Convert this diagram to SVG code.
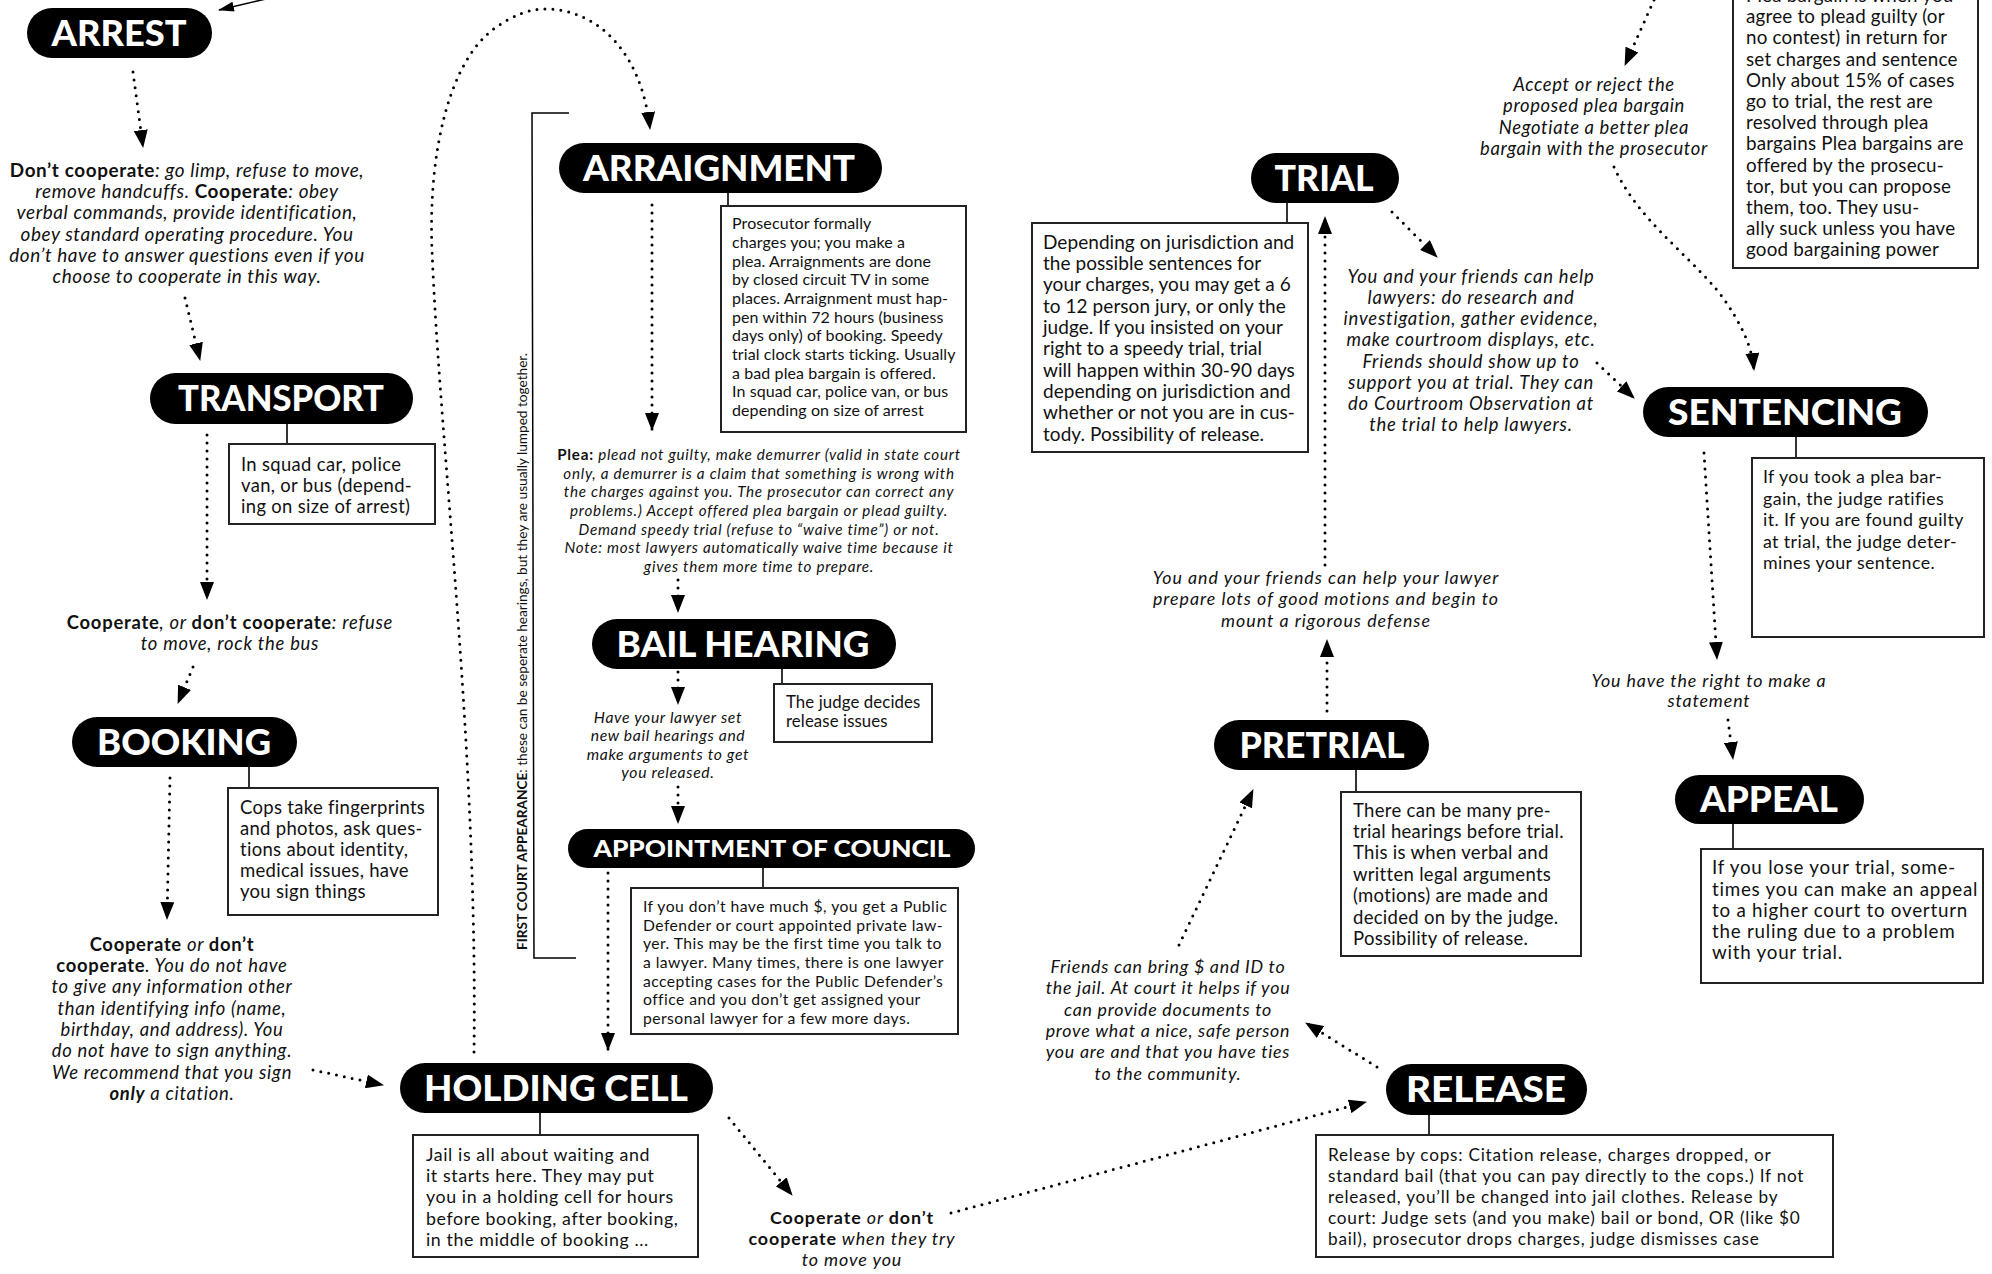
<svg xmlns="http://www.w3.org/2000/svg" width="1992" height="1274" viewBox="0 0 1992 1274">
<defs>
<marker id="ah" markerUnits="userSpaceOnUse" viewBox="0 0 18 14" refX="17" refY="7" markerWidth="18" markerHeight="14" orient="auto">
<path d="M0,0 L18,7 L0,14 z" fill="#000"/>
</marker>
<marker id="ahs" markerUnits="userSpaceOnUse" viewBox="0 0 16 10" refX="15" refY="5" markerWidth="16" markerHeight="10" orient="auto">
<path d="M0,0 L16,5 L0,10 z" fill="#000"/>
</marker>
</defs>
<style>
text{font-family:Lato,"Open Sans","DejaVu Sans",sans-serif;fill:#111}
.pill{fill:#000}
.title{fill:#fff;font-weight:900;font-size:36px;text-anchor:middle;letter-spacing:0}
.title.small{font-size:23px}
.box{fill:#fff;stroke:#222;stroke-width:2}
.tie{stroke:#333;stroke-width:2}
.dot{fill:none;stroke:#000;stroke-width:3;stroke-dasharray:0 8;stroke-linecap:round;marker-end:url(#ah)}
.solid{fill:none;stroke:#000;stroke-width:1.6}
.lab{font-style:italic;text-anchor:middle}
.b{font-weight:700;font-style:normal}
</style>
<rect width="1992" height="1274" fill="#fff"/>

<g id="connectors">
<line class="solid" x1="270" y1="-2" x2="219" y2="10" marker-end="url(#ahs)"/>
<path class="dot" d="M133,72 L143,147"/>
<path class="dot" d="M185,298 L200,360"/>
<path class="dot" d="M207,435 L207,599"/>
<path class="dot" d="M193,667 L178,703"/>
<path class="dot" d="M170,778 L167,919"/>
<path class="dot" d="M313,1070 L383,1085"/>
<path class="dot" d="M474,1052 C478,750 440,450 432,250 C428,150 450,60 495,28 C515,14 530,9 545,9 C600,9 642,55 650,129"/>
<path class="dot" d="M652,205 L652,430"/>
<path class="dot" d="M678,580 L678,612"/>
<path class="dot" d="M678,672 L678,704"/>
<path class="dot" d="M678,787 L678,823"/>
<path class="dot" d="M608,873 L608,1050"/>
<path class="dot" d="M729,1118 L792,1195"/>
<path class="dot" d="M951,1213 L1366,1102"/>
<path class="dot" d="M1377,1067 L1306,1023"/>
<path class="dot" d="M1179,945 L1253,790"/>
<path class="dot" d="M1327,711 L1327,640"/>
<path class="dot" d="M1325,565 L1325,217"/>
<path class="dot" d="M1392,212 L1437,257"/>
<path class="dot" d="M1597,363 L1634,398"/>
<path class="dot" d="M1654,0 L1625,65"/>
<path class="dot" d="M1614,167 C1640,225 1700,262 1728,305 C1746,333 1752,350 1754,370"/>
<path class="dot" d="M1704,453 L1717,659"/>
<path class="dot" d="M1728,720 L1733,759"/>
</g>

<g id="first-court-appearance">
<path d="M569,113 L532,113 L534,958 L576,958" fill="none" stroke="#000" stroke-width="1.5"/>
<text transform="translate(527,950) rotate(-90)" font-size="13" textLength="597" lengthAdjust="spacingAndGlyphs"><tspan font-weight="700">FIRST COURT APPEARANCE</tspan>: these can be seperate hearings, but they are usually lumped together.</text>
</g>

<g id="arrest">
<rect class="pill" x="27" y="8" width="185" height="50" rx="25"/>
<text class="title" x="119" y="46" textLength="135" lengthAdjust="spacingAndGlyphs">ARREST</text>
</g>
<g id="arrest-note" font-size="18.9" letter-spacing="0.6">
<text class="lab" x="187" y="177"><tspan class="b">Don’t cooperate</tspan>: go limp, refuse to move,</text>
<text class="lab" x="187" y="198">remove handcuffs. <tspan class="b">Cooperate</tspan>: obey</text>
<text class="lab" x="187" y="219">verbal commands, provide identification,</text>
<text class="lab" x="187" y="241">obey standard operating procedure. You</text>
<text class="lab" x="187" y="262">don’t have to answer questions even if you</text>
<text class="lab" x="187" y="283">choose to cooperate in this way.</text>
</g>

<g id="transport">
<rect class="pill" x="150" y="373" width="263" height="51" rx="25.5"/>
<text class="title" x="281" y="411" textLength="206" lengthAdjust="spacingAndGlyphs">TRANSPORT</text>
<line class="tie" x1="287" y1="424" x2="287" y2="444"/>
<rect class="box" x="229" y="444" width="206" height="80"/>
<g font-size="18.4" letter-spacing="0.35">
<text x="241" y="471">In squad car, police</text>
<text x="241" y="492">van, or bus (depend-</text>
<text x="241" y="513">ing on size of arrest)</text>
</g>
</g>
<g id="transport-note" font-size="18.4" letter-spacing="0.75">
<text class="lab" x="230" y="629"><tspan class="b">Cooperate</tspan>, or <tspan class="b">don’t cooperate</tspan>: refuse</text>
<text class="lab" x="230" y="650">to move, rock the bus</text>
</g>

<g id="booking">
<rect class="pill" x="72" y="717" width="225" height="50" rx="25"/>
<text class="title" x="184" y="755" textLength="174" lengthAdjust="spacingAndGlyphs">BOOKING</text>
<line class="tie" x1="249" y1="767" x2="249" y2="788"/>
<rect class="box" x="228" y="788" width="210" height="127"/>
<g font-size="18.5" letter-spacing="0.3">
<text x="240" y="814">Cops take fingerprints</text>
<text x="240" y="835">and photos, ask ques-</text>
<text x="240" y="856">tions about identity,</text>
<text x="240" y="877">medical issues, have</text>
<text x="240" y="898">you sign things</text>
</g>
</g>
<g id="booking-note" font-size="18.4" letter-spacing="0.7">
<text class="lab" x="172" y="951"><tspan class="b">Cooperate</tspan> or <tspan class="b">don’t</tspan></text>
<text class="lab" x="172" y="972"><tspan class="b">cooperate</tspan>. You do not have</text>
<text class="lab" x="172" y="993">to give any information other</text>
<text class="lab" x="172" y="1015">than identifying info (name,</text>
<text class="lab" x="172" y="1036">birthday, and address). You</text>
<text class="lab" x="172" y="1057">do not have to sign anything.</text>
<text class="lab" x="172" y="1079">We recommend that you sign</text>
<text class="lab" x="172" y="1100"><tspan font-weight="700">only</tspan> a citation.</text>
</g>

<g id="holding-cell">
<rect class="pill" x="400" y="1063" width="313" height="50" rx="25"/>
<text class="title" x="556" y="1101" textLength="264" lengthAdjust="spacingAndGlyphs">HOLDING CELL</text>
<line class="tie" x1="540" y1="1113" x2="540" y2="1135"/>
<rect class="box" x="413" y="1135" width="285" height="122"/>
<g font-size="17.8" letter-spacing="0.6">
<text x="426" y="1161">Jail is all about waiting and</text>
<text x="426" y="1182">it starts here. They may put</text>
<text x="426" y="1203">you in a holding cell for hours</text>
<text x="426" y="1225">before booking, after booking,</text>
<text x="426" y="1246">in the middle of booking ...</text>
</g>
</g>
<g id="holding-note" font-size="17.9" letter-spacing="0.9">
<text class="lab" x="852" y="1224"><tspan class="b">Cooperate</tspan> or <tspan class="b">don’t</tspan></text>
<text class="lab" x="852" y="1245"><tspan class="b">cooperate</tspan> when they try</text>
<text class="lab" x="852" y="1266">to move you</text>
</g>

<g id="arraignment">
<rect class="pill" x="559" y="143" width="323" height="50" rx="25"/>
<text class="title" x="719" y="181" textLength="272" lengthAdjust="spacingAndGlyphs">ARRAIGNMENT</text>
<line class="tie" x1="728" y1="193" x2="728" y2="206"/>
<rect class="box" x="721" y="206" width="245" height="226"/>
<g font-size="16" letter-spacing="0.1">
<text x="732" y="229">Prosecutor formally</text>
<text x="732" y="248">charges you; you make a</text>
<text x="732" y="267">plea. Arraignments are done</text>
<text x="732" y="285">by closed circuit TV in some</text>
<text x="732" y="304">places. Arraignment must hap-</text>
<text x="732" y="323">pen within 72 hours (business</text>
<text x="732" y="341">days only) of booking. Speedy</text>
<text x="732" y="360">trial clock starts ticking. Usually</text>
<text x="732" y="379">a bad plea bargain is offered.</text>
<text x="732" y="397">In squad car, police van, or bus</text>
<text x="732" y="416">depending on size of arrest</text>
</g>
</g>
<g id="plea-note" font-size="15.2" letter-spacing="0.75">
<text class="lab" x="759" y="460"><tspan class="b">Plea:</tspan> plead not guilty, make demurrer (valid in state court</text>
<text class="lab" x="759" y="479">only, a demurrer is a claim that something is wrong with</text>
<text class="lab" x="759" y="497">the charges against you. The prosecutor can correct any</text>
<text class="lab" x="759" y="516">problems.) Accept offered plea bargain or plead guilty.</text>
<text class="lab" x="759" y="535">Demand speedy trial (refuse to “waive time”) or not.</text>
<text class="lab" x="759" y="553">Note: most lawyers automatically waive time because it</text>
<text class="lab" x="759" y="572">gives them more time to prepare.</text>
</g>

<g id="bail-hearing">
<rect class="pill" x="592" y="619" width="304" height="50" rx="25"/>
<text class="title" x="743" y="657" textLength="253" lengthAdjust="spacingAndGlyphs">BAIL HEARING</text>
<line class="tie" x1="782" y1="669" x2="782" y2="684"/>
<rect class="box" x="774" y="684" width="158" height="58"/>
<g font-size="16.8" letter-spacing="0.1">
<text x="786" y="708">The judge decides</text>
<text x="786" y="727">release issues</text>
</g>
</g>
<g id="bail-note" font-size="15.7" letter-spacing="0.65">
<text class="lab" x="668" y="723">Have your lawyer set</text>
<text class="lab" x="668" y="741">new bail hearings and</text>
<text class="lab" x="668" y="760">make arguments to get</text>
<text class="lab" x="668" y="778">you released.</text>
</g>

<g id="appointment-of-council">
<rect class="pill" x="568" y="829" width="407" height="39" rx="19.5"/>
<text class="title small" x="772" y="857" textLength="357" lengthAdjust="spacingAndGlyphs">APPOINTMENT OF COUNCIL</text>
<line class="tie" x1="763" y1="868" x2="763" y2="888"/>
<rect class="box" x="631" y="888" width="327" height="146"/>
<g font-size="15.7" letter-spacing="0.45">
<text x="643" y="912">If you don’t have much $, you get a Public</text>
<text x="643" y="931">Defender or court appointed private law-</text>
<text x="643" y="949">yer.  This may be the first time you talk to</text>
<text x="643" y="968">a lawyer. Many times, there is one lawyer</text>
<text x="643" y="987">accepting cases for the Public Defender’s</text>
<text x="643" y="1005">office and you don’t get assigned your</text>
<text x="643" y="1024">personal lawyer for a few more days.</text>
</g>
</g>

<g id="release">
<rect class="pill" x="1386" y="1064" width="201" height="51" rx="25.5"/>
<text class="title" x="1486" y="1102" textLength="160" lengthAdjust="spacingAndGlyphs">RELEASE</text>
<line class="tie" x1="1429" y1="1115" x2="1429" y2="1135"/>
<rect class="box" x="1316" y="1135" width="517" height="122"/>
<g font-size="17.2" letter-spacing="0.75">
<text x="1328" y="1161">Release by cops: Citation release, charges dropped, or</text>
<text x="1328" y="1182">standard bail (that you can pay directly to the cops.) If not</text>
<text x="1328" y="1203">released, you’ll be changed into jail clothes. Release by</text>
<text x="1328" y="1224">court: Judge sets (and you make) bail or bond, OR (like $0</text>
<text x="1328" y="1245">bail), prosecutor drops charges, judge dismisses case</text>
</g>
</g>
<g id="release-note" font-size="17.8" letter-spacing="0.75">
<text class="lab" x="1168" y="973">Friends can bring $ and ID to</text>
<text class="lab" x="1168" y="994">the jail. At court it helps if you</text>
<text class="lab" x="1168" y="1016">can provide documents to</text>
<text class="lab" x="1168" y="1037">prove what a nice, safe person</text>
<text class="lab" x="1168" y="1058">you are and that you have ties</text>
<text class="lab" x="1168" y="1080">to the community.</text>
</g>

<g id="pretrial">
<rect class="pill" x="1214" y="720" width="215" height="50" rx="25"/>
<text class="title" x="1322" y="758" textLength="165" lengthAdjust="spacingAndGlyphs">PRETRIAL</text>
<line class="tie" x1="1356" y1="770" x2="1356" y2="792"/>
<rect class="box" x="1341" y="792" width="240" height="164"/>
<g font-size="18.5" letter-spacing="0.3">
<text x="1353" y="817">There can be many pre-</text>
<text x="1353" y="838">trial hearings before trial.</text>
<text x="1353" y="859">This is when verbal and</text>
<text x="1353" y="881">written legal arguments</text>
<text x="1353" y="902">(motions) are made and</text>
<text x="1353" y="924">decided on by the judge.</text>
<text x="1353" y="945">Possibility of release.</text>
</g>
</g>
<g id="pretrial-note" font-size="17.8" letter-spacing="1">
<text class="lab" x="1326" y="584">You and your friends can help your lawyer</text>
<text class="lab" x="1326" y="605">prepare lots of good motions and begin to</text>
<text class="lab" x="1326" y="627">mount a rigorous defense</text>
</g>

<g id="trial">
<rect class="pill" x="1251" y="153" width="148" height="50" rx="25"/>
<text class="title" x="1324" y="191" textLength="99" lengthAdjust="spacingAndGlyphs">TRIAL</text>
<line class="tie" x1="1287" y1="203" x2="1287" y2="223"/>
<rect class="box" x="1032" y="223" width="276" height="229"/>
<g font-size="19" letter-spacing="0.05">
<text x="1043" y="249">Depending on jurisdiction and</text>
<text x="1043" y="270">the possible sentences for</text>
<text x="1043" y="291">your charges, you may get a 6</text>
<text x="1043" y="313">to 12 person jury, or only the</text>
<text x="1043" y="334">judge. If you insisted on your</text>
<text x="1043" y="355">right to a speedy trial, trial</text>
<text x="1043" y="377">will happen within 30-90 days</text>
<text x="1043" y="398">depending on jurisdiction and</text>
<text x="1043" y="419">whether or not you are in cus-</text>
<text x="1043" y="441">tody. Possibility of release.</text>
</g>
</g>
<g id="trial-note" font-size="18.4" letter-spacing="0.8">
<text class="lab" x="1471" y="283">You and your friends can help</text>
<text class="lab" x="1471" y="304">lawyers: do research and</text>
<text class="lab" x="1471" y="325">investigation, gather evidence,</text>
<text class="lab" x="1471" y="346">make courtroom displays, etc.</text>
<text class="lab" x="1471" y="368">Friends should show up to</text>
<text class="lab" x="1471" y="389">support you at trial. They can</text>
<text class="lab" x="1471" y="410">do Courtroom Observation at</text>
<text class="lab" x="1471" y="431">the trial to help lawyers.</text>
</g>

<g id="plea-bargain">
<rect class="box" x="1733" y="-10" width="245" height="278"/>
<g font-size="18.8" letter-spacing="0.2">
<text x="1746" y="2">Plea bargain is when you</text>
<text x="1746" y="23">agree to plead guilty (or</text>
<text x="1746" y="44">no contest) in return for</text>
<text x="1746" y="66">set charges and sentence</text>
<text x="1746" y="87">Only about 15% of cases</text>
<text x="1746" y="108">go to trial, the rest are</text>
<text x="1746" y="129">resolved through plea</text>
<text x="1746" y="150">bargains Plea bargains are</text>
<text x="1746" y="172">offered by the prosecu-</text>
<text x="1746" y="193">tor, but you can propose</text>
<text x="1746" y="214">them, too. They usu-</text>
<text x="1746" y="235">ally suck unless you have</text>
<text x="1746" y="256">good bargaining power</text>
</g>
</g>
<g id="plea-bargain-note" font-size="18.4" letter-spacing="0.65">
<text class="lab" x="1594" y="91">Accept or reject the</text>
<text class="lab" x="1594" y="112">proposed plea bargain</text>
<text class="lab" x="1594" y="134">Negotiate a better plea</text>
<text class="lab" x="1594" y="155">bargain with the prosecutor</text>
</g>

<g id="sentencing">
<rect class="pill" x="1643" y="387" width="285" height="50" rx="25"/>
<text class="title" x="1785" y="425" textLength="234" lengthAdjust="spacingAndGlyphs">SENTENCING</text>
<line class="tie" x1="1796" y1="437" x2="1796" y2="458"/>
<rect class="box" x="1752" y="458" width="232" height="179"/>
<g font-size="17.8" letter-spacing="0.4">
<text x="1763" y="483">If you took a plea bar-</text>
<text x="1763" y="505">gain, the judge ratifies</text>
<text x="1763" y="526">it. If you are found guilty</text>
<text x="1763" y="548">at trial, the judge deter-</text>
<text x="1763" y="569">mines your sentence.</text>
</g>
</g>
<g id="sentencing-note" font-size="17.8" letter-spacing="0.9">
<text class="lab" x="1709" y="687">You have the right to make a</text>
<text class="lab" x="1709" y="707">statement</text>
</g>

<g id="appeal">
<rect class="pill" x="1675" y="775" width="189" height="49" rx="24.5"/>
<text class="title" x="1769" y="812" textLength="138" lengthAdjust="spacingAndGlyphs">APPEAL</text>
<line class="tie" x1="1733" y1="824" x2="1733" y2="849"/>
<rect class="box" x="1701" y="849" width="282" height="134"/>
<g font-size="18.8" letter-spacing="0.75">
<text x="1712" y="874">If you lose your trial, some-</text>
<text x="1712" y="896">times you can make an appeal</text>
<text x="1712" y="917">to a higher court to overturn</text>
<text x="1712" y="938">the ruling due to a problem</text>
<text x="1712" y="959">with your trial.</text>
</g>
</g>
</svg>
